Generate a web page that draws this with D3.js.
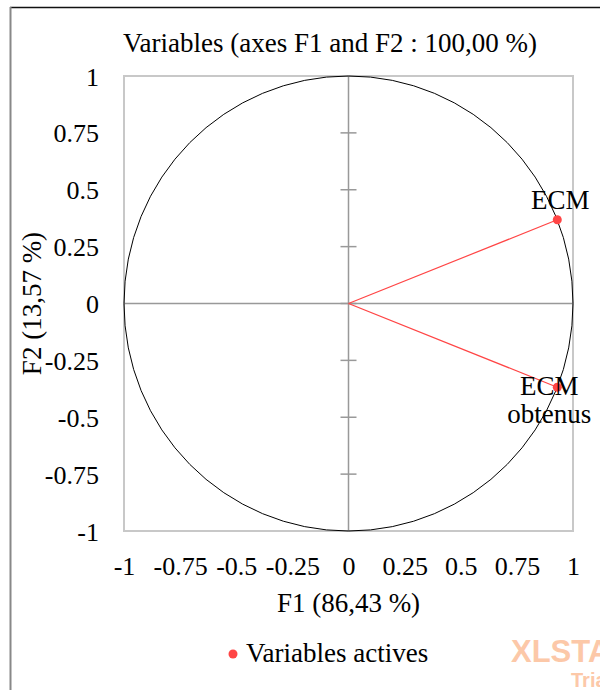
<!DOCTYPE html>
<html>
<head>
<meta charset="utf-8">
<script src="https://cdn.jsdelivr.net/npm/d3@7"></script>
<style>
  body { margin: 0; background: #fff; }
  svg text { font-family: "Liberation Serif", "Times New Roman", serif; fill: #000; }
</style>
</head>
<body>
<div id="chart"></div>
<script>
// data
var varNames = [["ECM"], ["ECM", "obtenus"]];
var f1Values = [0.93, 0.93];
var f2Values = [0.368, -0.368];
var axisTicks = [-1, -0.75, -0.5, -0.25, 0, 0.25, 0.5, 0.75, 1];
var titleText = "Variables (axes F1 and F2 : 100,00 %)";
var xTitle = "F1 (86,43 %)";
var yTitle = "F2 (13,57 %)";
var legendText = "Variables actives";

var width = 600, height = 690;
var red = "#ff4545";

var svg = d3.select("#chart")
	.append("svg")
	.attr("width", width)
	.attr("height", height);

// outer frame
svg.append("line").attr("x1", 10).attr("x2", 610).attr("y1", 7.5).attr("y2", 7.5)
	.style("stroke", "#111").style("stroke-width", 1.5);
svg.append("line").attr("x1", 10.5).attr("x2", 10.5).attr("y1", 7).attr("y2", 690)
	.style("stroke", "#888").style("stroke-width", 2);

var x = d3.scaleLinear().domain([-1, 1]).range([124, 573]);
var y = d3.scaleLinear().domain([-1, 1]).range([531, 76]);

// plot border
svg.append("rect")
	.attr("x", x(-1)).attr("y", y(1))
	.attr("width", x(1) - x(-1)).attr("height", y(-1) - y(1))
	.style("fill", "none").style("stroke", "#c8c8c8").style("stroke-width", 2);

// tick labels
var fmt = function(d) { return String(d); };
var yAxis = svg.append("g")
	.attr("transform", "translate(" + (x(-1) - 25) + ",0)")
	.call(d3.axisLeft(y).tickValues(axisTicks).tickSize(0).tickPadding(0).tickFormat(fmt));
var xAxis = svg.append("g")
	.attr("transform", "translate(0," + (y(-1) + 26) + ")")
	.call(d3.axisBottom(x).tickValues(axisTicks).tickSize(0).tickPadding(0).tickFormat(fmt));
[xAxis, yAxis].forEach(function(a) {
	a.select(".domain").remove();
	a.selectAll("text").style("font-family", "Liberation Serif").style("font-size", "26px").style("fill", "#000");
});
yAxis.selectAll("text").attr("dy", "0.35em");

// centre axes
svg.append("line").attr("x1", x(-1)).attr("x2", x(1)).attr("y1", y(0)).attr("y2", y(0))
	.style("stroke", "#999").style("stroke-width", 1.5);
svg.append("line").attr("x1", x(0)).attr("x2", x(0)).attr("y1", y(-1)).attr("y2", y(1))
	.style("stroke", "#999").style("stroke-width", 1.5);
svg.selectAll(".vtick")
	.data(axisTicks.filter(function(d) { return Math.abs(d) < 1; }))
	.enter().append("line")
	.attr("class", "vtick")
	.attr("x1", x(0) - 8).attr("x2", x(0) + 8)
	.attr("y1", function(d) { return y(d); })
	.attr("y2", function(d) { return y(d); })
	.style("stroke", "#999").style("stroke-width", 1.5);

// correlation circle
svg.append("ellipse")
	.attr("cx", x(0)).attr("cy", y(0))
	.attr("rx", x(1) - x(0)).attr("ry", y(0) - y(1))
	.style("fill", "none").style("stroke", "#000").style("stroke-width", 1);

// vectors
var pts = f1Values.map(function(v, i) { return { f1: v, f2: f2Values[i], name: varNames[i] }; });

svg.selectAll(".vec")
	.data(pts)
	.enter().append("line")
	.attr("class", "vec")
	.attr("x1", x(0)).attr("y1", y(0))
	.attr("x2", function(d) { return x(d.f1); })
	.attr("y2", function(d) { return y(d.f2); })
	.style("stroke", red).style("stroke-width", 1.2);

svg.selectAll(".pt")
	.data(pts)
	.enter().append("circle")
	.attr("class", "pt")
	.attr("cx", function(d) { return x(d.f1); })
	.attr("cy", function(d) { return y(d.f2); })
	.attr("r", 4.5)
	.style("fill", red);

// labels
var labelOffsets = [{ dx: 3, dy: -11 }, { dx: -8, dy: 8 }];
svg.selectAll(".lbl")
	.data(pts)
	.enter().append("text")
	.attr("class", "lbl")
	.attr("text-anchor", "middle")
	.style("font-size", "27px")
	.each(function(d, i) {
		var t = d3.select(this);
		d.name.forEach(function(line, j) {
			t.append("tspan")
				.attr("x", x(d.f1) + labelOffsets[i].dx)
				.attr("y", y(d.f2) + labelOffsets[i].dy + j * 28)
				.text(line);
		});
	});

// titles
svg.append("text").attr("x", 330).attr("y", 52).attr("text-anchor", "middle")
	.style("font-size", "27px").text(titleText);
svg.append("text").attr("x", x(0)).attr("y", 612).attr("text-anchor", "middle")
	.style("font-size", "27px").text(xTitle);
svg.append("text").attr("transform", "translate(41," + y(0) + ") rotate(-90)")
	.attr("text-anchor", "middle").style("font-size", "27px").text(yTitle);

// legend
svg.append("circle").attr("cx", 233).attr("cy", 654).attr("r", 4.5).style("fill", red);
svg.append("text").attr("x", 246).attr("y", 662).style("font-size", "27px").text(legendText);

// watermark
svg.append("text").attr("x", 511).attr("y", 662)
	.style("font-family", "'Liberation Sans', sans-serif")
	.style("font-weight", "bold").style("font-size", "31px").style("fill", "#fcc8a8")
	.text("XLSTAT");
svg.append("text").attr("x", 571).attr("y", 687)
	.style("font-family", "'Liberation Sans', sans-serif")
	.style("font-weight", "bold").style("font-size", "20px").style("fill", "#fcc8a8")
	.text("Trial");
</script>
</body>
</html>
